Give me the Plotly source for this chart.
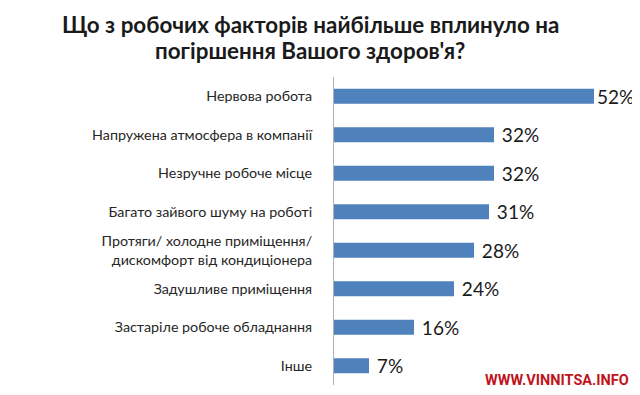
import plotly.graph_objects as go

categories = [
    "Нервова робота",
    "Напружена атмосфера в компанії",
    "Незручне робоче місце",
    "Багато зайвого шуму на роботі",
    "Протяги/ холодне приміщення/<br>дискомфорт від кондиціонера",
    "Задушливе приміщення",
    "Застаріле робоче обладнання",
    "Інше",
]
values = [52, 32, 32, 31, 28, 24, 16, 7]
title_lines = ["Що з робочих факторів найбільше вплинуло на", "погіршення Вашого здоров'я?"]
watermark = "WWW.VINNITSA.INFO"

# page has an 8px body margin; the figure is drawn at (8, 8)
OX, OY = 8, 8
W, H = 640 - OX, 395 - OY
# plot area in page pixels: x 334..636, y 77..385
L, R, T, B = 334 - OX, W - (636 - OX), 77 - OY, H - (385 - OY)
PW, PH = W - L - R, H - T - B


def px_x(x):  # page pixel -> paper
    return (x - OX - L) / PW


def px_y(y):  # page pixel -> paper
    return (H - B - (y - OY)) / PH


vmax = max(values)
fig = go.Figure(go.Bar(
    x=values,
    y=categories,
    orientation="h",
    marker=dict(color="#4f81bd", line=dict(width=0)),
    text=[f"{v}%" for v in values],
    texttemplate=["%{text}" if v == vmax else " %{text}" for v in values],
    textposition="outside",
    constraintext="none",
    textfont=dict(family="Lato", size=19, color="#1a1a1a"),
    cliponaxis=False,
    hoverinfo="skip",
))

annotations = [
    dict(
        text=line,
        xref="paper", yref="paper",
        x=px_x(310), y=px_y(24 + 26 * i),
        xanchor="center", yanchor="middle",
        showarrow=False,
        font=dict(family="Lato", size=22.4, color="#1a1a1a", weight="bold"),
    )
    for i, line in enumerate(title_lines)
]
annotations.append(dict(
    text=watermark,
    xref="paper", yref="paper",
    x=px_x(631), y=px_y(380),
    xanchor="right", yanchor="middle",
    showarrow=False,
    font=dict(family="Roboto", size=14.5, color="#c0141c", weight="bold"),
))

fig.update_layout(
    width=W, height=H,
    margin=dict(l=L, r=R, t=T, b=B, pad=0, autoexpand=False),
    paper_bgcolor="white",
    plot_bgcolor="white",
    bargap=0.61,
    showlegend=False,
    xaxis=dict(range=[0, 60.4], visible=False, fixedrange=True, automargin=False),
    yaxis=dict(
        autorange="reversed",
        automargin=False,
        showline=True, linecolor="#b0b0b0", linewidth=1,
        showgrid=False, zeroline=False, ticks="",
        ticklabelstandoff=18,
        tickfont=dict(family="Lato", size=14.3, color="#262626"),
        fixedrange=True,
    ),
    annotations=annotations,
    shapes=[
        dict(type="line", xref="paper", yref="paper",
             x0=1, x1=1, y0=px_y(395), y1=px_y(OY),
             line=dict(color="#9a9a9a", width=1.5)),
    ],
)

fig.write_html("out.html")
